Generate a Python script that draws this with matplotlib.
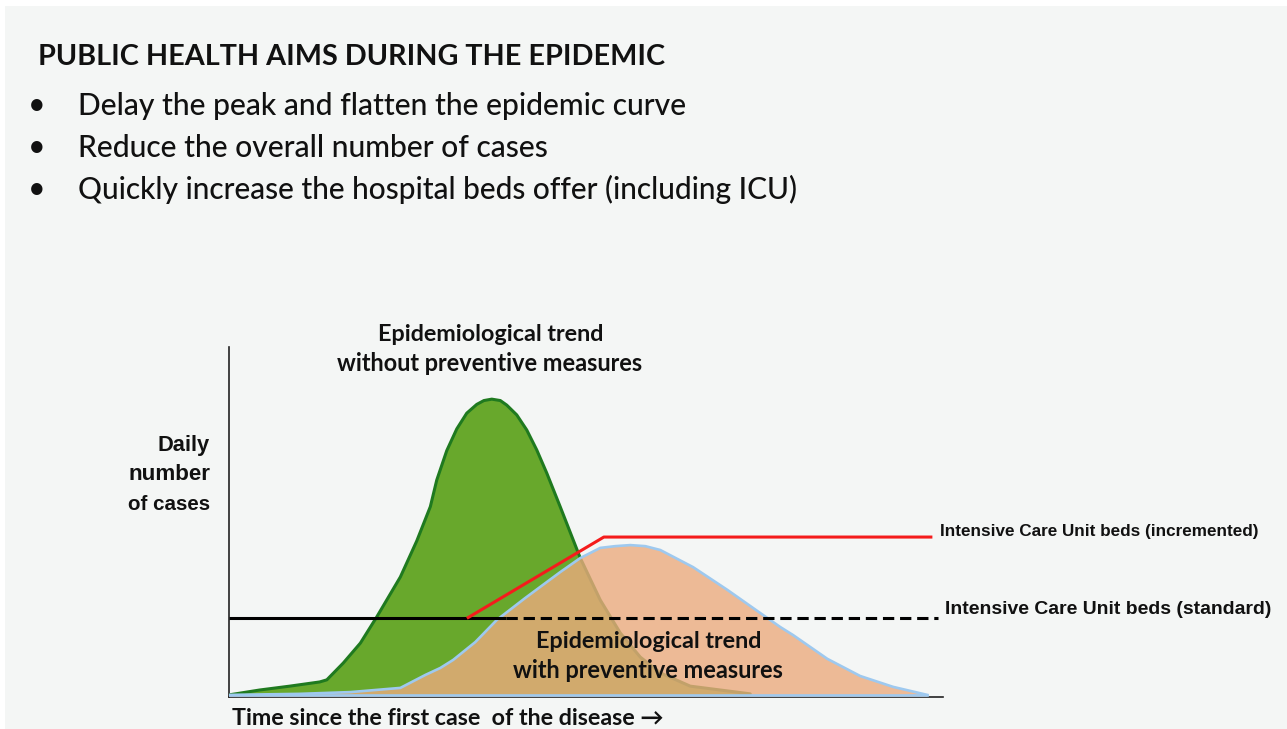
import matplotlib
matplotlib.use('Agg')
import matplotlib.pyplot as plt
from matplotlib.patches import Rectangle

W, H = 1287, 729

# ---------------- data ----------------
green_days = [0, 4.3, 8.5, 12.7, 13.7, 16.0, 18.4, 20.7, 24.0, 26.3, 28.2, 29.1, 30.5, 31.9,
              33.3, 34.7, 35.7, 36.8, 38.0, 38.9, 40.3, 41.7, 43.1, 44.5, 46.4, 49.2, 52.0,
              54.8, 57.6, 60.4, 64.6, 73.0]
green_cases = [0.6, 2.0, 3.1, 4.3, 4.9, 9.7, 15.4, 22.9, 34.3, 44.6, 54.4, 62.0, 70.4, 76.6,
               81.1, 83.6, 84.7, 85.1, 84.7, 83.4, 80.6, 76.3, 70.6, 64.0, 54.3, 39.7, 27.7,
               18.3, 11.4, 6.9, 3.1, 0.9]

prev_days = [0, 9.9, 17.0, 24.0, 27.5, 29.6, 31.4, 34.5, 37.5, 41.5, 46.4, 49.2, 52.0, 54.1,
             56.2, 58.3, 60.4, 65.0, 69.8, 74.4, 77.2, 79.0, 83.8, 88.4, 93.0, 97.8]
prev_cases = [0.6, 0.9, 1.4, 2.6, 6.3, 8.3, 10.6, 15.7, 22.0, 28.3, 35.7, 39.7, 42.6, 43.1,
              43.4, 43.1, 42.0, 37.1, 30.6, 24.0, 20.0, 17.7, 10.9, 6.0, 2.9, 0.6]

icu_inc_days = [33.5, 52.5, 98.3]
icu_inc_beds = [22.7, 45.7, 45.7]
icu_std_beds = 22.7
icu_std_days_solid = [0, 38.8]
icu_std_days_dashed = [38.8, 99.3]

title = "PUBLIC HEALTH AIMS DURING THE EPIDEMIC"
bullets = ["Delay the peak and flatten the epidemic curve",
           "Reduce the overall number of cases",
           "Quickly increase the hospital beds offer (including ICU)"]

# ---------------- figure ----------------
fig = plt.figure(figsize=(W / 100, H / 100), dpi=100)
fig.patch.set_facecolor('white')
fig.patches.append(Rectangle((5 / W, 0), 1, 1 - 6 / H, transform=fig.transFigure,
                             facecolor='#f4f6f5', edgecolor='none', zorder=-10))

ax = fig.add_axes([229 / W, 1 - 697 / H, (943 - 229) / W, (697 - 347) / H])
ax.set_xlim(0, 100)
ax.set_ylim(0, 100)
ax.patch.set_alpha(0)
for s in ['top', 'right']:
    ax.spines[s].set_visible(False)
for s in ['left', 'bottom']:
    ax.spines[s].set_linewidth(1.2)
    ax.spines[s].set_color('#222222')
ax.set_xticks([])
ax.set_yticks([])

ax.fill_between(green_days, 0, green_cases, facecolor='#68a82c', edgecolor='none', zorder=2)
ax.plot(green_days, green_cases, color='#1f7a1f', lw=2.2, zorder=3,
        solid_joinstyle='round', solid_capstyle='round')
ax.fill_between(prev_days, 0, prev_cases, facecolor=(236 / 255, 171 / 255, 126 / 255),
                alpha=0.8, edgecolor='none', zorder=4)
ax.plot(prev_days, prev_cases, color='#9ec9ef', lw=1.9, zorder=5, solid_joinstyle='round')
ax.plot([prev_days[0], prev_days[-1]], [prev_cases[0], prev_cases[-1]], color='#9ec9ef',
        lw=1.9, zorder=5)

ax.plot(icu_std_days_solid, [icu_std_beds] * 2, color='black', lw=2.2, zorder=6,
        solid_capstyle='butt')
ax.plot(icu_std_days_dashed, [icu_std_beds] * 2, color='black', lw=2.2, zorder=6,
        linestyle=(0, (3.7, 1.9)))
ax.plot(icu_inc_days, icu_inc_beds, color='#f41c1c', lw=2.2, zorder=7)

# ---------------- text ----------------
texts = []  # (text_obj, target_width)


def put(x, y, s, w, family, weight='bold', ha='left', size=20):
    t = fig.text(x / W, 1 - y / H, s, ha=ha, va='baseline', family=family,
                 fontweight=weight, fontsize=size, color='#111111')
    texts.append((t, w))
    return t


cal = ['Lato', 'DejaVu Sans']
ari = ['Liberation Sans', 'DejaVu Sans']

put(38, 65, title, 624, cal)
bl_y = [115, 157, 199]
bl_w = [610, 471, 722]
for y, s, w in zip(bl_y, bullets, bl_w):
    fig.text(37 / W, 1 - (y - 1) / H, "\u2022", ha='center', va='baseline', family=cal,
             fontsize=22, color='#111111')
    put(78, y, s, w, cal, weight='medium')

put(491, 341, "Epidemiological trend", 226, cal, ha='center')
put(490, 371, "without preventive measures", 306, cal, ha='center')

put(210, 451, "Daily", 52, ari, ha='right')
put(210, 480, "number", 82, ari, ha='right')
put(210, 510, "of cases", 82, ari, ha='right')

put(649, 648, "Epidemiological trend", 226, cal, ha='center')
put(648, 678, "with preventive measures", 271, cal, ha='center')

put(940, 536, "Intensive Care Unit beds (incremented)", 317, ari)
put(945, 614, "Intensive Care Unit beds (standard)", 327, ari)

put(232, 725, "Time since the first case  of the disease \u2192", 433, cal)

fig.canvas.draw()
r = fig.canvas.get_renderer()
for t, w in texts:
    bb = t.get_window_extent(r)
    t.set_fontsize(t.get_fontsize() * w / bb.width)

fig.savefig('out.png', dpi=100, facecolor=fig.get_facecolor())
